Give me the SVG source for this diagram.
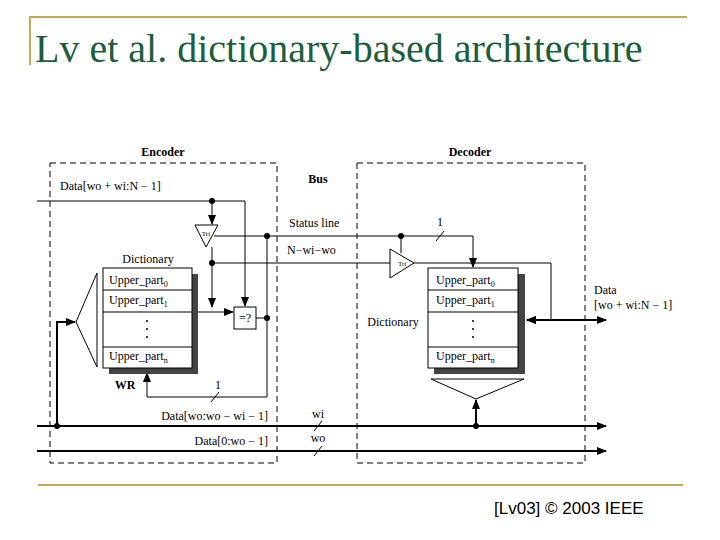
<svg xmlns="http://www.w3.org/2000/svg" width="720" height="540" viewBox="0 0 720 540">
<defs>
<marker id="ah" markerWidth="10" markerHeight="8" refX="9" refY="4" orient="auto" markerUnits="userSpaceOnUse"><path d="M0,0 L10,4 L0,8 Z" fill="#000"/></marker>
<marker id="ahs" markerWidth="10" markerHeight="8" refX="1" refY="4" orient="auto" markerUnits="userSpaceOnUse"><path d="M10,0 L0,4 L10,8 Z" fill="#000"/></marker>
</defs>
<style>
.t{font-family:"Liberation Serif",serif;font-size:12px;fill:#000}
.b{font-family:"Liberation Serif",serif;font-size:12px;font-weight:bold;fill:#000}
.s{font-family:"Liberation Serif",serif;font-size:7px;fill:#000}
.l{stroke:#000;stroke-width:1;fill:none}
.w{stroke:#000;stroke-width:2;fill:none}
.d{stroke:#000;stroke-width:1;fill:none;stroke-dasharray:6,4}
.box{fill:#fff;stroke:#000;stroke-width:1}
</style>
<rect width="720" height="540" fill="#fff"/>
<path d="M30,65 V17 H687" stroke="#c2ab55" stroke-width="2" fill="none"/>
<text x="35" y="62" font-family="Liberation Serif,serif" font-size="40" fill="#1b5e3b">Lv et al. dictionary-based architecture</text>
<line x1="38" y1="485" x2="683" y2="485" stroke="#c2ab55" stroke-width="2"/>
<text x="494" y="514" font-family="Liberation Sans,sans-serif" font-size="17" fill="#000">[Lv03] © 2003 IEEE</text>

<rect class="d" x="50" y="163" width="227" height="300"/>
<rect class="d" x="357" y="163" width="228" height="300"/>
<text class="b" x="163" y="156" text-anchor="middle">Encoder</text>
<text class="b" x="470" y="156" text-anchor="middle">Decoder</text>
<text class="b" x="318" y="183" text-anchor="middle">Bus</text>

<g id="connectors">
<path class="l" d="M37,201 H245 V306" marker-end="url(#ah)"/>
<line class="l" x1="212" y1="201" x2="212" y2="224" marker-end="url(#ah)"/>
<path class="l" d="M214,236 H473 V267" marker-end="url(#ah)"/>
<line class="l" x1="436" y1="241" x2="444" y2="231"/>
<line class="l" x1="212" y1="247" x2="212" y2="307" marker-end="url(#ah)"/>
<line class="l" x1="212" y1="263" x2="390" y2="263"/>
<line class="l" x1="192" y1="312" x2="233" y2="312" marker-end="url(#ah)"/>
<line class="l" x1="256" y1="318" x2="267" y2="318"/>
<path class="l" d="M267,236 V397 H147 V373" marker-end="url(#ah)"/>
<line class="l" x1="211" y1="402" x2="219" y2="392"/>
<path class="w" d="M57,426 V322 H75" marker-end="url(#ah)"/>
<line class="w" x1="37" y1="426" x2="606" y2="426" marker-end="url(#ah)"/>
<line class="w" x1="37" y1="451" x2="606" y2="451" marker-end="url(#ah)"/>
<line class="l" x1="314" y1="431" x2="322" y2="421"/>
<line class="l" x1="314" y1="456" x2="322" y2="446"/>
<line class="l" x1="401" y1="236" x2="401" y2="253"/>
<path class="l" d="M414,263 H551 V320 H527" marker-end="url(#ah)"/>
<line class="w" x1="527" y1="320" x2="606" y2="320" marker-start="url(#ahs)" marker-end="url(#ah)"/>
<line class="w" x1="476" y1="426" x2="476" y2="400" marker-end="url(#ah)"/>
<g fill="#000">
<circle cx="212" cy="201" r="3"/><circle cx="267" cy="236" r="3"/><circle cx="212" cy="263" r="3"/>
<circle cx="267" cy="318" r="3"/><circle cx="57" cy="426" r="3"/><circle cx="401" cy="236" r="3"/><circle cx="476" cy="426" r="3"/>
</g>
</g>

<text class="t" x="60" y="190">Data[wo + wi:N − 1]</text>
<text class="t" x="289" y="227">Status line</text>
<text class="t" x="287" y="254">N−wi−wo</text>
<text class="t" x="440" y="226" text-anchor="middle">1</text>
<text class="t" x="218" y="389" text-anchor="middle">1</text>
<text class="b" x="125" y="389" text-anchor="middle" font-size="11">WR</text>
<text class="t" x="268" y="420" text-anchor="end">Data[wo:wo − wi − 1]</text>
<text class="t" x="268" y="445" text-anchor="end">Data[0:wo − 1]</text>
<text class="t" x="318" y="418" text-anchor="middle">wi</text>
<text class="t" x="318" y="442" text-anchor="middle">wo</text>
<text class="t" x="594" y="294">Data</text>
<text class="t" x="594" y="309">[wo + wi:N − 1]</text>

<g id="enc-tri"><path class="box" d="M195,225 H218 L206,247 Z"/><text class="s" x="206" y="236" text-anchor="middle">Tri</text></g>
<g id="enc-cmp"><rect class="box" x="234" y="307" width="22" height="22"/><text class="t" x="245" y="322" text-anchor="middle">=?</text></g>
<g id="enc-dec"><path class="l" d="M97,273 V367 L76,322 Z"/></g>
<g id="enc-dict">
<text class="t" x="148" y="263" text-anchor="middle">Dictionary</text>
<rect x="109" y="274" width="89" height="100" fill="#444"/>
<rect class="box" x="103" y="268" width="89" height="100"/>
<line class="l" x1="103" y1="290" x2="192" y2="290"/><line class="l" x1="103" y1="312" x2="192" y2="312"/><line class="l" x1="103" y1="347" x2="192" y2="347"/>
<text class="t" x="109" y="284">Upper_part<tspan font-size="8" dy="3">0</tspan></text>
<text class="t" x="109" y="304">Upper_part<tspan font-size="8" dy="3">1</tspan></text>
<g fill="#000"><circle cx="147" cy="321" r="1"/><circle cx="147" cy="329" r="1"/><circle cx="147" cy="337" r="1"/></g>
<text class="t" x="109" y="360">Upper_part<tspan font-size="8" dy="3">n</tspan></text>
</g>
<g id="dec-tri"><path class="box" d="M390,249 V278 L414,263 Z"/><text class="s" x="398" y="266">Tri</text></g>
<g id="dec-dict">
<text class="t" x="393" y="326" text-anchor="middle">Dictionary</text>
<rect x="434" y="274" width="91" height="100" fill="#444"/>
<rect class="box" x="428" y="268" width="90" height="100"/>
<line class="l" x1="428" y1="290" x2="518" y2="290"/><line class="l" x1="428" y1="312" x2="518" y2="312"/><line class="l" x1="428" y1="347" x2="518" y2="347"/>
<text class="t" x="436" y="284">Upper_part<tspan font-size="8" dy="3">0</tspan></text>
<text class="t" x="436" y="304">Upper_part<tspan font-size="8" dy="3">1</tspan></text>
<g fill="#000"><circle cx="473" cy="321" r="1"/><circle cx="473" cy="329" r="1"/><circle cx="473" cy="337" r="1"/></g>
<text class="t" x="436" y="360">Upper_part<tspan font-size="8" dy="3">n</tspan></text>
</g>
<g id="dec-dec"><path class="l" d="M431,379 H524 L476,399 Z"/></g>
</svg>
